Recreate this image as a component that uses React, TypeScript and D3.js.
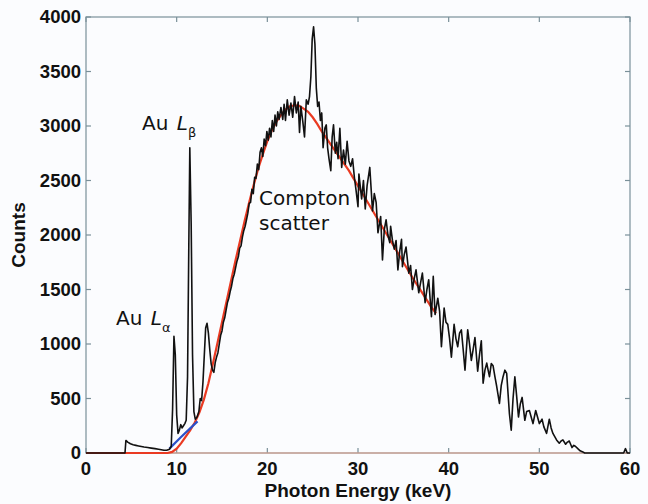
import React, { useRef, useEffect } from 'react';
import * as d3 from 'd3';

// measured spectrum [keV, counts]
const spectrum: [number, number][] = [
  [0, 0], [4.3, 0], [4.4, 115], [4.6, 100], [4.9, 85], [5.2, 75], [5.5, 70], [5.8, 65], [6.1, 60],
  [6.4, 55], [6.8, 50], [7.2, 45], [7.6, 40], [8.0, 35], [8.3, 30], [8.6, 25], [8.9, 25], [9.2, 35],
  [9.4, 60], [9.55, 400], [9.7, 1070], [9.85, 900], [10.0, 350], [10.15, 180], [10.3, 210], [10.45, 260],
  [10.6, 230], [10.75, 250], [10.9, 270], [11.05, 300], [11.2, 700], [11.35, 2000], [11.45, 2800],
  [11.6, 2100], [11.75, 900], [11.9, 380], [12.05, 310], [12.25, 330], [12.45, 380], [12.6, 500],
  [12.75, 480], [12.9, 650], [13.05, 900], [13.2, 1150], [13.35, 1190], [13.5, 1100], [13.65, 950],
  [13.8, 820], [13.95, 760], [14.1, 740], [14.25, 830], [14.4, 880], [14.55, 920], [14.7, 1000],
  [14.85, 1080], [15.0, 1120], [15.15, 1200], [15.3, 1240], [15.45, 1310], [15.6, 1380], [15.75, 1420],
  [15.9, 1480], [16.05, 1530], [16.2, 1600], [16.35, 1640], [16.5, 1700], [16.65, 1760], [16.8, 1800],
  [16.95, 1880], [17.1, 1900], [17.25, 1980], [17.4, 2040], [17.55, 2080], [17.7, 2140], [17.85, 2200],
  [18.0, 2290], [18.15, 2300], [18.3, 2420], [18.45, 2380], [18.6, 2530], [18.75, 2520], [18.9, 2650],
  [19.05, 2600], [19.2, 2760], [19.35, 2800], [19.5, 2720], [19.65, 2880], [19.8, 2820], [19.95, 2950],
  [20.1, 2870], [20.25, 2980], [20.4, 2900], [20.55, 3050], [20.7, 2950], [20.85, 3100], [21.0, 3000],
  [21.15, 3130], [21.3, 3060], [21.5, 3170], [21.7, 3060], [21.85, 3200], [22.0, 3050], [22.2, 3240],
  [22.4, 3100], [22.6, 3210], [22.8, 3080], [23.0, 3270], [23.2, 3120], [23.4, 3220], [23.55, 2940],
  [23.7, 3180], [23.9, 3050], [24.1, 2900], [24.3, 3240], [24.5, 3200], [24.65, 3270], [24.8, 3450],
  [24.95, 3800], [25.1, 3910], [25.25, 3750], [25.4, 3350], [25.55, 3180], [25.7, 3220], [25.85, 3050],
  [26.0, 3120], [26.15, 2800], [26.35, 2980], [26.5, 3010], [26.65, 2800], [26.8, 2700], [27.0, 2590],
  [27.15, 2900], [27.3, 3010], [27.5, 2750], [27.65, 2850], [27.8, 2700], [28.0, 2980], [28.2, 2620],
  [28.4, 2780], [28.6, 2650], [28.8, 2860], [29.0, 2680], [29.2, 2630], [29.4, 2700], [29.6, 2530],
  [29.8, 2400], [30.0, 2260], [30.1, 2560], [30.4, 2330], [30.6, 2500], [30.8, 2240], [31.0, 2450],
  [31.3, 2620], [31.6, 2220], [31.8, 2380], [32.0, 2300], [32.2, 2020], [32.5, 2170], [32.7, 1770],
  [32.9, 2050], [33.1, 2140], [33.3, 2000], [33.5, 1930], [33.6, 2080], [33.8, 1950], [34.0, 1870],
  [34.2, 1950], [34.4, 1680], [34.6, 1850], [34.8, 1960], [34.9, 1710], [35.1, 1820], [35.3, 1890],
  [35.6, 1650], [35.8, 1720], [36.0, 1500], [36.2, 1600], [36.4, 1680], [36.7, 1470], [36.9, 1560],
  [37.1, 1650], [37.4, 1380], [37.6, 1500], [37.8, 1590], [38.1, 1250], [38.3, 1620], [38.5, 1270],
  [38.8, 1420], [39.0, 1300], [39.2, 975], [39.5, 1330], [39.7, 1200], [39.9, 1180], [40.1, 1050],
  [40.3, 880], [40.6, 1180], [40.8, 1050], [41.0, 975], [41.2, 1100], [41.4, 1130], [41.6, 950],
  [41.8, 760], [42.1, 1130], [42.3, 1000], [42.5, 850], [42.7, 950], [42.9, 1060], [43.2, 750],
  [43.4, 900], [43.6, 1030], [43.8, 640], [44.0, 760], [44.2, 825], [44.35, 760], [44.5, 700],
  [44.7, 820], [44.9, 800], [45.1, 700], [45.3, 610], [45.6, 455], [45.8, 620], [46.0, 700],
  [46.2, 760], [46.4, 730], [46.7, 360], [46.9, 210], [47.1, 500], [47.3, 700], [47.5, 520],
  [47.7, 330], [47.9, 450], [48.1, 510], [48.4, 300], [48.6, 380], [48.9, 390], [49.1, 330],
  [49.3, 270], [49.6, 390], [49.8, 330], [50.0, 270], [50.3, 310], [50.5, 240], [50.8, 180],
  [51.1, 310], [51.3, 230], [51.5, 180], [51.7, 150], [51.9, 120], [52.2, 90], [52.4, 110],
  [52.6, 120], [52.9, 80], [53.1, 100], [53.3, 110], [53.6, 50], [53.8, 70], [54.0, 60], [54.3, 35],
  [54.5, 20], [54.8, 10], [55.0, 0], [59.3, 0], [59.5, 40], [59.7, 0], [60, 0],
];

// Compton fit (red), only drawn up to where it disappears under the data
const comptonFit: [number, number][] = [
  [0, 0], [9.0, 0], [9.5, 10], [10, 40], [10.5, 90], [11, 150], [11.5, 210], [12, 280], [12.5, 370],
  [13, 490], [13.5, 640], [14, 820], [14.5, 1010], [15, 1200], [15.5, 1390], [16, 1580], [16.5, 1770],
  [17, 1950], [17.5, 2130], [18, 2300], [18.5, 2460], [19, 2610], [19.5, 2740], [20, 2860],
  [20.5, 2960], [21, 3040], [21.5, 3100], [22, 3150], [22.5, 3180], [23, 3190], [23.5, 3185],
  [24, 3160], [24.5, 3130], [25, 3080], [25.5, 3020], [26, 2950], [26.5, 2890], [27, 2830],
  [27.5, 2770], [28, 2710], [28.5, 2650], [29, 2590], [29.5, 2520], [30, 2450], [31, 2310],
  [32, 2170], [33, 2030], [34, 1890], [35, 1750], [36, 1610], [37, 1480], [38, 1350], [38.6, 1280],
];

// background under the L lines (blue)
const lineBackground: [number, number][] = [[9.2, 40], [10.4, 140], [12.3, 290]];

const xTicks = [0, 10, 20, 30, 40, 50, 60];
const yTicks = [0, 500, 1000, 1500, 2000, 2500, 3000, 3500, 4000];

function App() {
  const ref = useRef<SVGSVGElement>(null);

  useEffect(() => {
    const svg = d3.select(ref.current);
    svg.selectAll('*').remove();

    const width = 648;
    const height = 504;
    const margin = { top: 17, right: 18, bottom: 51, left: 86 };
    const axisColor = '#7a9099';
    const tickFont = 'Liberation Sans, Arial, sans-serif';

    const x = d3.scaleLinear().domain([0, 60]).range([margin.left, width - margin.right]);
    const y = d3.scaleLinear().domain([0, 4000]).range([height - margin.bottom, margin.top]);

    svg.append('rect').attr('width', width).attr('height', height).attr('fill', '#fbfcfe');

    const line = d3.line<[number, number]>().x(d => x(d[0])).y(d => y(d[1]));

    // box with inward ticks on all sides
    const g = svg.append('g').attr('stroke', axisColor).attr('stroke-width', 1.2).attr('fill', 'none');
    g.append('rect')
      .attr('x', x(0)).attr('y', y(4000))
      .attr('width', x(60) - x(0)).attr('height', y(0) - y(4000));
    xTicks.forEach(t => {
      g.append('line').attr('x1', x(t)).attr('x2', x(t)).attr('y1', y(0)).attr('y2', y(0) - 5);
      g.append('line').attr('x1', x(t)).attr('x2', x(t)).attr('y1', y(4000)).attr('y2', y(4000) + 5);
    });
    yTicks.forEach(t => {
      g.append('line').attr('x1', x(0)).attr('x2', x(0) + 5).attr('y1', y(t)).attr('y2', y(t));
      g.append('line').attr('x1', x(60)).attr('x2', x(60) - 5).attr('y1', y(t)).attr('y2', y(t));
    });
    // bottom edge has a salmon tint in the original
    g.append('line').attr('x1', x(0)).attr('x2', x(60)).attr('y1', y(0)).attr('y2', y(0))
      .attr('stroke', '#e8a48c');

    // curves
    svg.append('path').datum(comptonFit).attr('d', line)
      .attr('fill', 'none').attr('stroke', '#ea3a22').attr('stroke-width', 2.2);
    svg.append('path').datum(lineBackground).attr('d', line)
      .attr('fill', 'none').attr('stroke', '#2c50c8').attr('stroke-width', 2.2);
    svg.append('path').datum(spectrum).attr('d', line)
      .attr('fill', 'none').attr('stroke', '#111').attr('stroke-width', 1.6)
      .attr('stroke-linejoin', 'round');

    // tick labels
    svg.append('g').selectAll('text').data(xTicks).enter().append('text')
      .attr('x', d => x(d)).attr('y', y(0) + 22)
      .attr('text-anchor', 'middle')
      .style('font', `bold 18.5px ${tickFont}`).attr('fill', '#111')
      .text(d => d);
    svg.append('g').selectAll('text').data(yTicks).enter().append('text')
      .attr('x', x(0) - 5).attr('y', d => y(d) + 6)
      .attr('text-anchor', 'end')
      .style('font', `bold 18.5px ${tickFont}`).attr('fill', '#111')
      .text(d => d);

    // axis titles
    svg.append('text')
      .attr('x', (x(0) + x(60)) / 2).attr('y', 497)
      .attr('text-anchor', 'middle')
      .style('font', `bold 19px ${tickFont}`).attr('fill', '#111')
      .text('Photon Energy (keV)');
    svg.append('text')
      .attr('transform', `translate(25,${(y(0) + y(4000)) / 2}) rotate(-90)`)
      .attr('text-anchor', 'middle')
      .style('font', `bold 19px ${tickFont}`).attr('fill', '#111')
      .text('Counts');

    // annotations
    const annFont = '20px DejaVu Sans, Verdana, sans-serif';
    const addLine = (xx: number, yy: number, sub: string) => {
      const t = svg.append('text').attr('x', xx).attr('y', yy)
        .style('font', annFont).attr('fill', '#111');
      t.append('tspan').text('Au ');
      t.append('tspan').attr('font-style', 'italic').attr('dx', 2).text('L');
      t.append('tspan').attr('font-size', 13).attr('dy', 7).text(sub);
    };
    addLine(142, 130, 'β');
    addLine(116, 325, 'α');

    svg.append('text').attr('x', 259).attr('y', 205)
      .style('font', annFont).attr('fill', '#111').text('Compton');
    svg.append('text').attr('x', 259).attr('y', 230)
      .style('font', annFont).attr('fill', '#111').text('scatter');
  }, []);

  return (
    <svg ref={ref} width={648} height={504}
      style={{ position: 'absolute', left: 0, top: 0, display: 'block' }} />
  );
}

export default App;
